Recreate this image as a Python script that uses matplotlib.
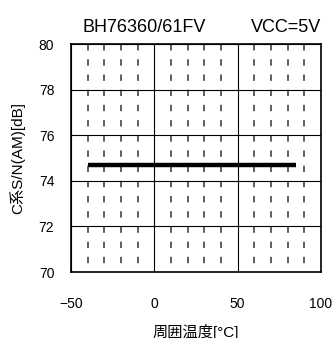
import matplotlib
matplotlib.use('Agg')
import matplotlib.pyplot as plt

plt.rcParams['font.family'] = ['Liberation Sans', 'Noto Sans CJK JP', 'DejaVu Sans']
plt.rcParams['lines.scale_dashes'] = False

# データ
temps = [-40, 85]
sn_db = [74.7, 74.7]
x_major = [-50, 0, 50, 100]
x_minor = [-40, -30, -20, -10, 10, 20, 30, 40, 60, 70, 80, 90]
y_major = [70, 72, 74, 76, 78, 80]

fig = plt.figure(figsize=(3.35, 3.38), dpi=100)
ax = fig.add_axes([71 / 335, 66 / 338, 250 / 335, 228 / 338])

ax.set_xlim(-50, 100)
ax.set_ylim(70, 80)

ax.set_xticks(x_major)
ax.set_xticks(x_minor, minor=True)
ax.set_yticks(y_major)
ax.grid(True, which='major', color='black', linewidth=0.8, zorder=1)
# 補助線（破線）: 下端は隙間から始まる
ax.grid(True, which='minor', axis='x', color='#333333', linewidth=1.1,
        linestyle=(4.6, (4.6, 6.34)), zorder=1)
ax.tick_params(which='both', length=0, labelsize=10)
ax.tick_params(axis='x', pad=18)
ax.tick_params(axis='y', pad=12)
for s in ax.spines.values():
    s.set_linewidth(1.2)

ax.plot(temps, sn_db, color='black', linewidth=3.2, solid_capstyle='butt', zorder=3)

ax.set_ylabel('C系S/N(AM)[dB]', fontsize=11, labelpad=10)
ax.set_xlabel('周囲温度[°C]', fontsize=11, labelpad=9)

fig.text(83 / 335, 1 - 32 / 338, 'BH76360/61FV', fontsize=13, ha='left', va='baseline')
fig.text(321 / 335, 1 - 32 / 338, 'VCC=5V', fontsize=13, ha='right', va='baseline')

fig.savefig('out.png', dpi=100)
